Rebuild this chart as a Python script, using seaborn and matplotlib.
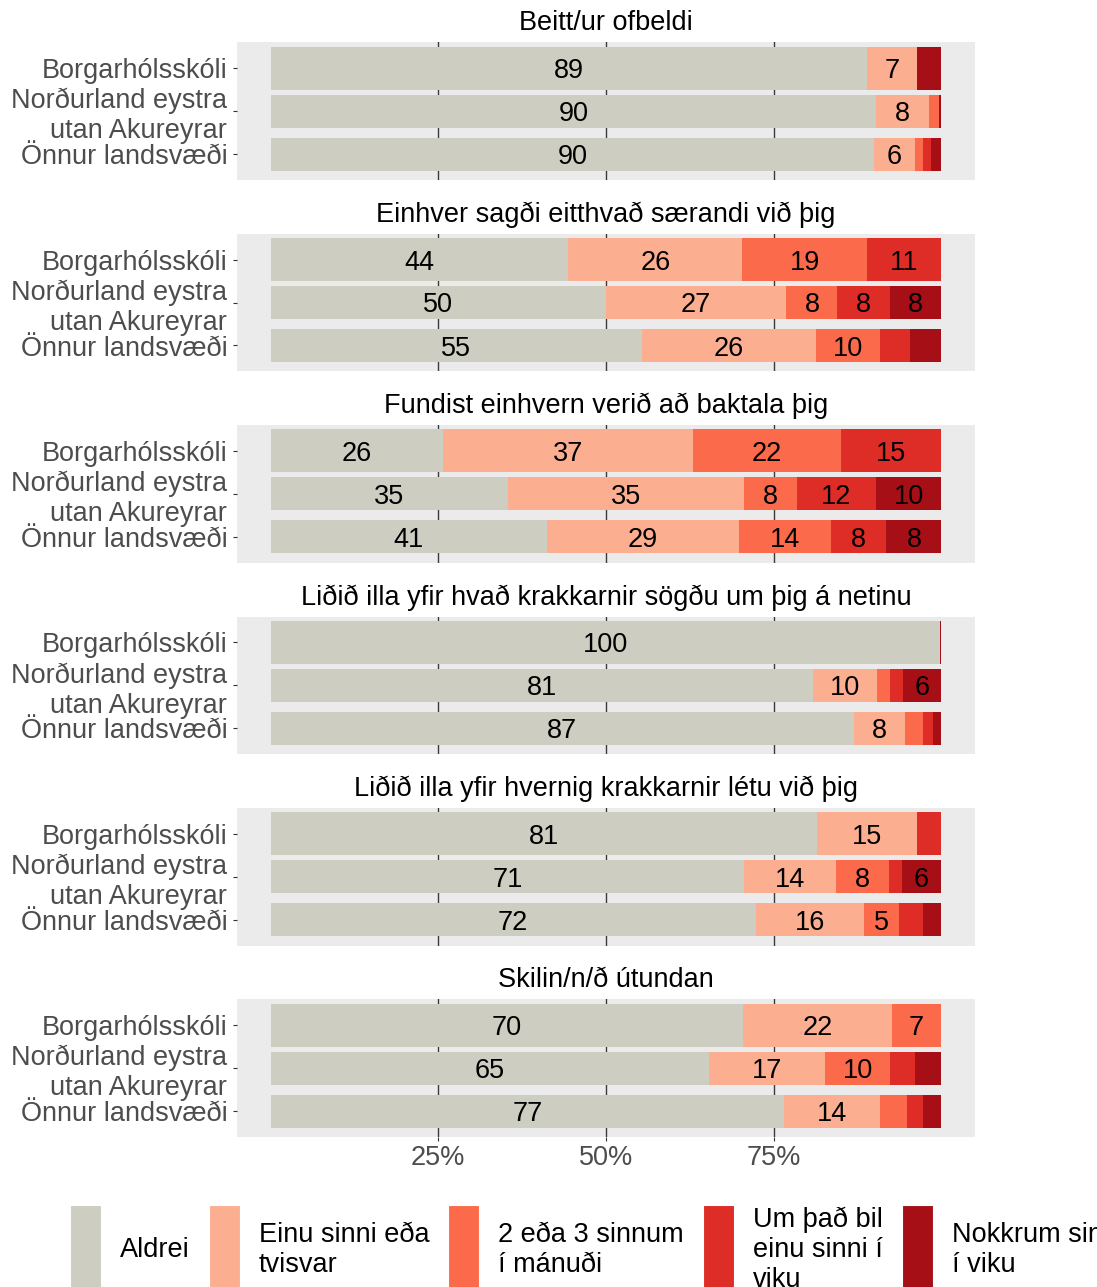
import numpy as np
import pandas as pd
import matplotlib
matplotlib.use("Agg")
import matplotlib.pyplot as plt
import seaborn as sns
from matplotlib.patches import Rectangle

# ---------------- data ----------------
questions = [
    "Beitt/ur ofbeldi",
    "Einhver sagði eitthvað særandi við þig",
    "Fundist einhvern verið að baktala þig",
    "Liðið illa yfir hvað krakkarnir sögðu um þig á netinu",
    "Liðið illa yfir hvernig krakkarnir létu við þig",
    "Skilin/n/ð útundan",
]
groups = ["Borgarhólsskóli", "Norðurland eystra\nutan Akureyrar", "Önnur landsvæði"]
responses = ["Aldrei", "Einu sinni eða tvisvar", "2 eða 3 sinnum í mánuði",
             "Um það bil einu sinni í viku", "Nokkrum sinnum í viku"]
legend_labels = ["Aldrei", "Einu sinni eða\ntvisvar", "2 eða 3 sinnum\ní mánuði",
                 "Um það bil\neinu sinni í\nviku", "Nokkrum sinnum\ní viku"]
colors = ["#CDCDC1", "#FCAE91", "#FB6A4A", "#DE2D26", "#A50F15"]

# rows = groups, columns = responses (percent)
q_ofbeldi = [[88.9, 7.4, 0.0, 0.0, 3.7],
             [90.3, 7.8, 1.6, 0.0, 0.3],
             [90.0, 6.0, 1.3, 1.1, 1.6]]
q_saerandi = [[44.4, 25.9, 18.6, 11.0, 0.1],
              [50.0, 26.9, 7.6, 7.8, 7.7],
              [55.4, 25.9, 9.6, 4.4, 4.7]]
q_baktala = [[25.7, 37.2, 22.2, 14.9, 0.0],
             [35.4, 35.1, 7.9, 11.8, 9.8],
             [41.2, 28.6, 13.7, 8.3, 8.2]]
q_netinu = [[99.8, 0.0, 0.0, 0.0, 0.2],
            [80.8, 9.6, 1.9, 1.9, 5.8],
            [86.9, 7.7, 2.6, 1.5, 1.3]]
q_letu = [[81.4, 14.9, 0.0, 3.6, 0.1],
          [70.6, 13.7, 7.9, 1.9, 5.9],
          [72.3, 16.2, 5.1, 3.6, 2.8]]
q_utundan = [[70.4, 22.2, 7.3, 0.0, 0.1],
             [65.3, 17.4, 9.6, 3.8, 3.9],
             [76.6, 14.3, 4.0, 2.4, 2.7]]
question_values = [q_ofbeldi, q_saerandi, q_baktala, q_netinu, q_letu, q_utundan]
bar_widths = [1.0, 0.77, 0.77]
x_ticks = [25, 50, 75]
x_ticklabels = ["25%", "50%", "75%"]

rows = []
for q, vals in zip(questions, question_values):
    for g, rv in zip(groups, vals):
        cum = 0.0
        for r, v in zip(responses, rv):
            cum += v
            rows.append(dict(question=q, group=g, response=r, value=v, cum_end=cum))
df = pd.DataFrame(rows)

# ---------------- style ----------------
plt.rcParams["font.family"] = ["Liberation Sans", "DejaVu Sans"]
FS = 19.5
GREY_TXT = "#4D4D4D"
LS = 1.2

W, H, DPI = 1097, 1287, 100
fig = plt.figure(figsize=(W / DPI, H / DPI), dpi=DPI)
fig.patch.set_facecolor("white")

panel_left, panel_right = 237, 975
panel_h = 137.6
first_top = 42.3
step = 191.4

for qi, q in enumerate(questions):
    top = first_top + qi * step
    ax = fig.add_axes([panel_left / W, 1 - (top + panel_h) / H,
                       (panel_right - panel_left) / W, panel_h / H])
    ax.set_facecolor("#EBEBEB")
    d = df[df.question == q]
    # stacked bars: draw cumulative totals from last category to first
    for k in reversed(range(len(responses))):
        sub = d[d.response == responses[k]]
        for gi, g in enumerate(groups):
            s = sub[sub.group == g]
            sns.barplot(data=s, x="cum_end", y="group", order=groups,
                        color=colors[k], width=bar_widths[gi], orient="y",
                        saturation=1, errorbar=None, linewidth=0, ax=ax)
    # value labels
    for gi, g in enumerate(groups):
        dg = d[d.group == g]
        for _, r in dg.iterrows():
            if r.value >= 5:
                ax.text(r.cum_end - r.value / 2, gi, f"{r.value:.0f}",
                        ha="center", va="center_baseline", fontsize=FS,
                        color="black")
    ax.set_xlim(-5, 105)
    ax.set_ylim(len(groups) - 1 + 0.6, -0.6)
    ax.set_xlabel("")
    ax.set_ylabel("")
    for sp in ax.spines.values():
        sp.set_visible(False)
    ax.set_axisbelow(True)
    ax.set_xticks(x_ticks)
    ax.xaxis.grid(True, color="#3A3A3A", linewidth=1.0)
    ax.yaxis.grid(False)
    ax.set_yticks(range(len(groups)))
    ax.set_yticklabels(groups, fontsize=FS, color=GREY_TXT, linespacing=LS)
    ax.tick_params(axis="y", length=3.0, width=0.8, color="#333333", pad=4)
    if qi == len(questions) - 1:
        ax.set_xticklabels(x_ticklabels, fontsize=FS, color=GREY_TXT)
        ax.tick_params(axis="x", length=3.0, width=0.8, color="#333333", pad=3)
    else:
        ax.set_xticklabels([])
        ax.tick_params(axis="x", length=0)
    ax.set_title(q, fontsize=FS, color="black", pad=8.6)

# ---------------- legend (manual, ggplot-like) ----------------
lax = fig.add_axes([0, 0, 1, 1], zorder=5)
lax.set_xlim(0, W)
lax.set_ylim(H, 0)
lax.axis("off")
renderer = fig.canvas.get_renderer()
x = 70
key_w, key_top, key_h = 31, 1205, 86
text_y = 1250
for lab, col in zip(legend_labels, colors):
    lax.add_patch(Rectangle((x, key_top), key_w, key_h, facecolor=col,
                            edgecolor="white", linewidth=0.8, clip_on=False))
    t = lax.text(x + key_w + 19, text_y, lab, ha="left", va="center",
                 fontsize=FS, color="black", linespacing=LS, clip_on=False)
    bb = t.get_window_extent(renderer)
    x = bb.x1 + 19

fig.savefig("out.png", dpi=DPI)
